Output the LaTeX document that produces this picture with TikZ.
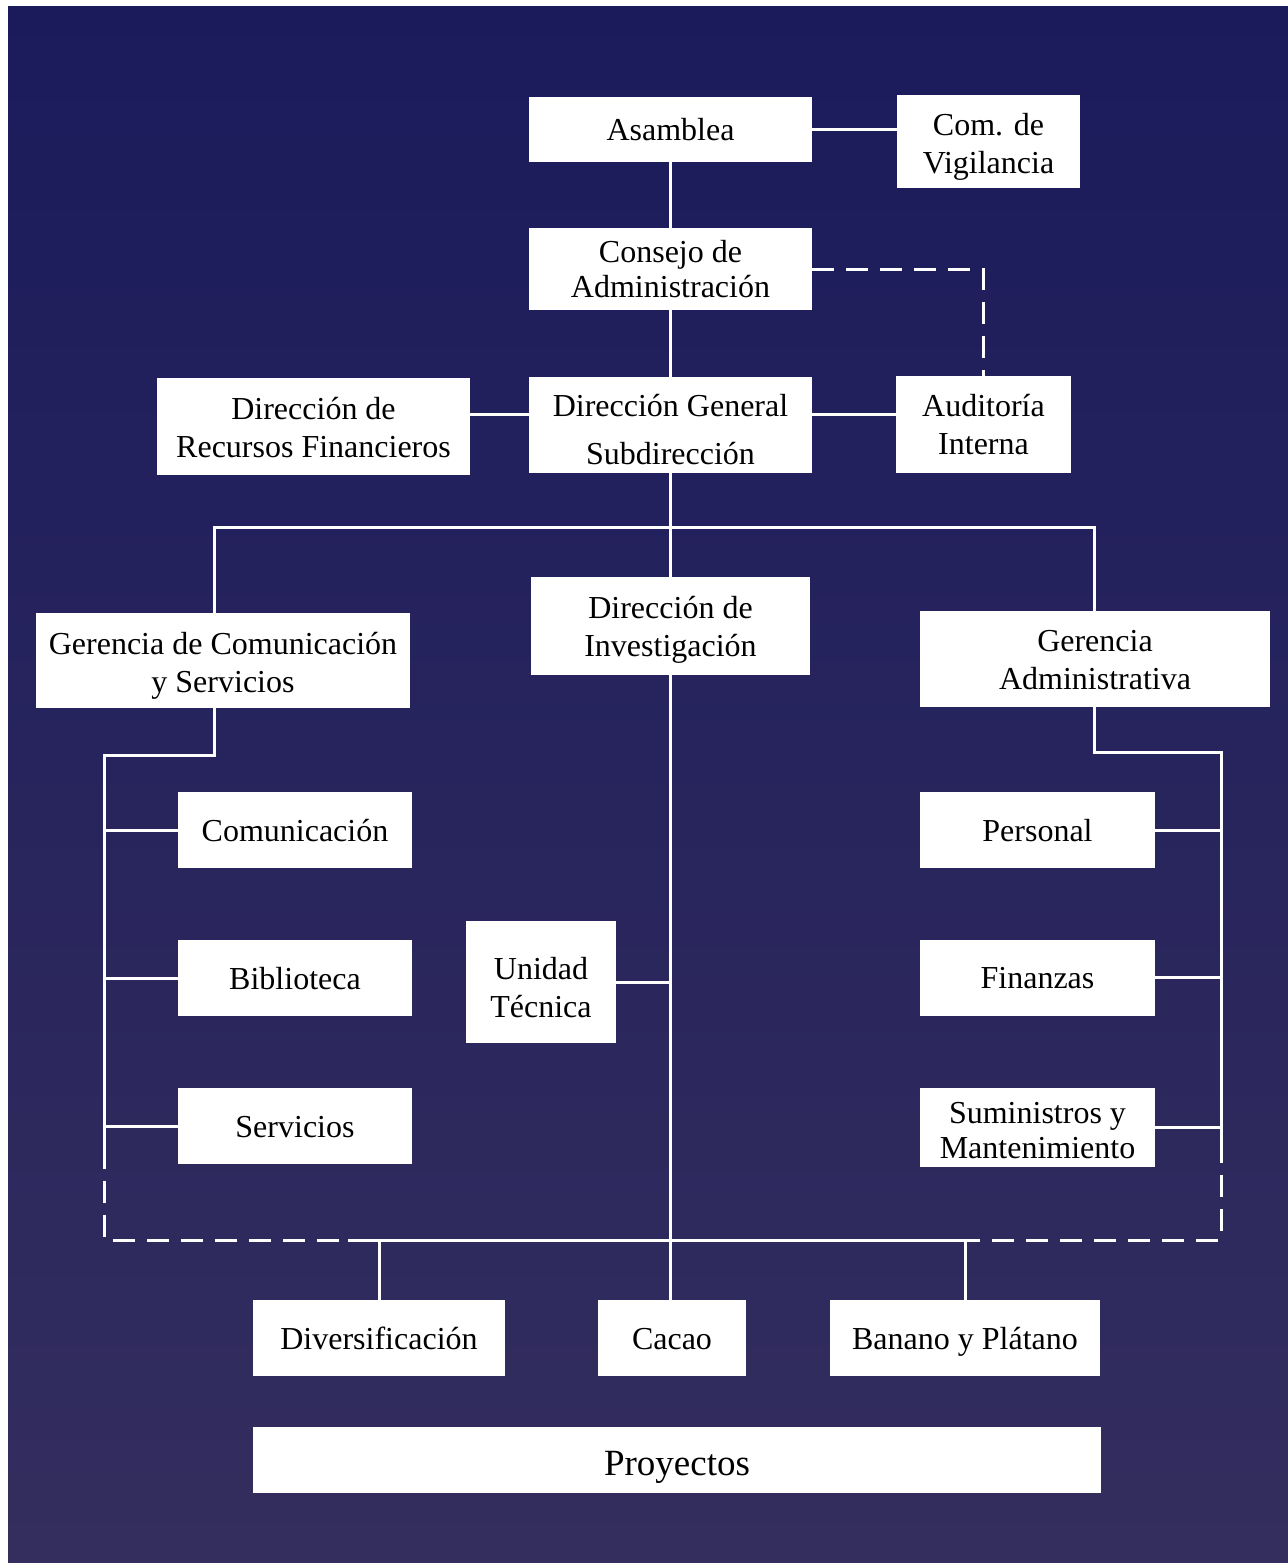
\documentclass[tikz,border=0pt]{standalone}
\usepackage{fontspec}
\setmainfont{Liberation Serif}
\definecolor{bgtop}{RGB}{27,27,92}
\definecolor{bgbot}{RGB}{52,46,94}
\newcommand{\tstrut}[1]{\rule{0pt}{#1}}
\begin{document}
\begin{tikzpicture}[x=0.5pt,y=-0.5pt,
  box/.style={fill=white, inner sep=0pt, align=center, text=black,
    font=\fontsize{16}{19}\selectfont},
  one/.style={text height=15pt, text depth=4pt},
  ln/.style={white, line width=1.5pt},
  dln/.style={ln, dash pattern=on 11pt off 6pt}]
\useasboundingbox (0,0) rectangle (1288,1563);
\fill[white] (0,0) rectangle (1288,1563);
\shade[top color=bgtop, bottom color=bgbot] (8,6) rectangle (1288,1563);

% nodes
\node[box, one, minimum width=141.5pt, minimum height=32.5pt] (asam) at (670.5,129.5) {Asamblea};
\node[box, minimum width=91.5pt, minimum height=46.5pt] (vig) at (988.5,141.5) {\tstrut{16pt}Com. de\\Vigilancia};
\node[box, minimum width=141.5pt, minimum height=41pt, font=\fontsize{16}{17.5}\selectfont] (cons) at (670.5,269) {Consejo de\\Administración};
\node[box, minimum width=141.5pt, minimum height=48pt] (dg) at (670.5,425) {\tstrut{15.2pt}Dirección General\\[5pt]Subdirección};
\node[box, minimum width=156.5pt, minimum height=48.5pt] (drf) at (313.5,426.5) {\tstrut{12.2pt}Dirección de\\Recursos Financieros};
\node[box, minimum width=87.5pt, minimum height=48.5pt] (aud) at (983.5,424.5) {Auditoría\\Interna};
\node[box, minimum width=187pt, minimum height=47.5pt] (gcs) at (223,660.5) {\tstrut{16.7pt}Gerencia de Comunicación\\y Servicios};
\node[box, minimum width=139.5pt, minimum height=49pt] (dinv) at (670.5,626) {\tstrut{15.2pt}Dirección de\\Investigación};
\node[box, minimum width=175pt, minimum height=48pt] (gadm) at (1095,659) {\tstrut{12pt}Gerencia\\Administrativa};
\node[box, one, minimum width=117pt, minimum height=38pt] (com) at (295,830) {Comunicación};
\node[box, one, minimum width=117pt, minimum height=38pt] (bib) at (295,978) {Biblioteca};
\node[box, one, minimum width=117pt, minimum height=38pt] (serv) at (295,1126) {Servicios};
\node[box, minimum width=75pt, minimum height=61pt] (ut) at (541,982) {\tstrut{17pt}Unidad\\Técnica};
\node[box, one, minimum width=117.5pt, minimum height=38pt] (pers) at (1037.5,830) {Personal};
\node[box, one, minimum width=117.5pt, minimum height=38pt] (fin) at (1037.5,977.5) {Finanzas};
\node[box, minimum width=117.5pt, minimum height=39.5pt, font=\fontsize{16}{17.5}\selectfont] (sum) at (1037.5,1127.5) {\tstrut{13.5pt}Suministros y\\Mantenimiento};
\node[box, one, minimum width=126pt, minimum height=38pt] (div) at (379,1338) {Diversificación};
\node[box, one, minimum width=74pt, minimum height=38pt] (cac) at (672,1338) {Cacao};
\node[box, one, minimum width=135pt, minimum height=38pt] (ban) at (965,1338) {Banano y Plátano};
\node[box, minimum width=424pt, minimum height=33pt, text height=19.5pt, text depth=4.5pt,
      font=\fontsize{18.5}{22}\selectfont] (proy) at (677,1460) {Proyectos};

% helper coordinates
\coordinate (dgy) at (0,414);
\coordinate (bl) at (214,527);
\coordinate (br) at (1094,527);
\coordinate (lA) at (214,755);
\coordinate (lB) at (104,755);
\coordinate (lC) at (104,1147);
\coordinate (lD) at (104,1240);
\coordinate (dA) at (348,1240);
\coordinate (dB) at (958,1240);
\coordinate (rD) at (1221,1240);
\coordinate (rC) at (1221,1150);
\coordinate (rB) at (1221,752);
\coordinate (rA) at (1094,752);

% connectors
\draw[ln] (asam.east) -- (asam.east -| vig.west);
\draw[ln] (asam.south) -- (cons.north);
\draw[dln] (cons.east) -- (cons.east -| aud.north) -- (aud.north);
\draw[ln] (cons.south) -- (dg.north);
\draw[ln] (drf.east |- dgy) -- (dg.west |- dgy);
\draw[ln] (dg.east |- dgy) -- (aud.west |- dgy);
\draw[ln] (dg.south) -- (dinv.north);
\draw[ln] (gcs.north -| bl) -- (bl) -- (br) -- (gadm.north -| br);
\draw[ln] (gcs.south -| lA) -- (lA) -- (lB) -- (lC);
\draw[dln] (lC) -- (lD) -- (dA);
\draw[ln] (dA) -- (dB);
\draw[dln] (dB) -- (rD) -- (rC);
\draw[ln] (rC) -- (rB) -- (rA) -- (gadm.south -| rA);
\draw[ln] (com.west) -- (com.west -| lB);
\draw[ln] (bib.west) -- (bib.west -| lB);
\draw[ln] (serv.west) -- (serv.west -| lB);
\draw[ln] (pers.east) -- (pers.east -| rB);
\draw[ln] (fin.east) -- (fin.east -| rB);
\draw[ln] (sum.east) -- (sum.east -| rB);
\draw[ln] (ut.east) -- (ut.east -| dinv.south);
\draw[ln] (dinv.south) -- (dinv.south |- cac.north);
\draw[ln] (div.north |- dA) -- (div.north);
\draw[ln] (ban.north |- dB) -- (ban.north);
\end{tikzpicture}
\end{document}
